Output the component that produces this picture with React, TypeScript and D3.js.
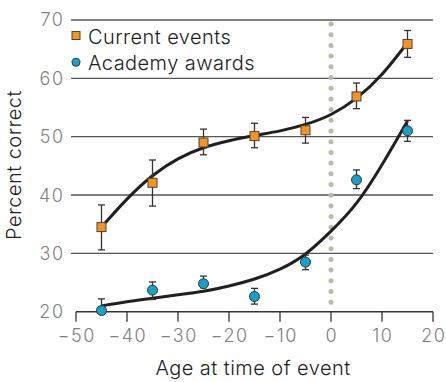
import React from "react";
import * as d3 from "d3";

const ages = [-45, -35, -25, -15, -5, 5, 15];
const currentMean = [34.5, 42.1, 49.0, 50.1, 51.1, 56.9, 65.9];
const currentHi = [38.3, 46.0, 51.3, 52.3, 53.3, 59.2, 68.2];
const currentLo = [30.6, 38.1, 46.9, 48.1, 48.9, 54.8, 63.6];
const academyMean = [20.2, 23.7, 24.8, 22.6, 28.5, 42.6, 51.0];
const academyHi = [22.2, 25.1, 26.1, 24.0, 29.7, 44.3, 52.8];
const academyLo = [20.2, 22.1, 24.1, 21.3, 27.2, 41.1, 49.2];

const fitX = [-45, -40, -35, -30, -25, -20, -15, -10, -5, 0, 5, 10, 15];
const currentFit = [34.5, 39.3, 43.3, 46.2, 48.1, 49.3, 50.2, 51.0, 52.1, 53.8, 56.6, 60.7, 66.1];
const academyFit = [21.0, 21.7, 22.3, 22.9, 23.5, 24.4, 25.6, 27.3, 29.9, 33.8, 38.6, 45.2, 52.7];

const xTicks = [-50, -40, -30, -20, -10, 0, 10, 20];
const yTicks = [20, 30, 40, 50, 60, 70];
const legendLabels = ["Current events", "Academy awards"];

const FONT = "Inter, 'Open Sans', sans-serif";
const ORANGE = "#f7941d";
const TEAL = "#14a3c7";

export default function App() {
  const x = d3.scaleLinear().domain([-50, 20]).range([76, 433]);
  const y = d3.scaleLinear().domain([20, 70]).range([311.7, 20]);
  const line = d3
    .line<[number, number]>()
    .x((d) => x(d[0]))
    .y((d) => y(d[1]))
    .curve(d3.curveNatural);
  const curPath = line(fitX.map((v, i) => [v, currentFit[i]]));
  const acaPath = line(fitX.map((v, i) => [v, academyFit[i]]));
  const fmt = (v: number) => (v < 0 ? "\u2212" + Math.abs(v) : String(v));

  const errBar = (xv: number, lo: number, hi: number, key: string) => (
    <g key={key} stroke="#333" strokeWidth={1.3}>
      <line x1={x(xv)} x2={x(xv)} y1={y(lo)} y2={y(hi)} />
      <line x1={x(xv) - 3.5} x2={x(xv) + 3.5} y1={y(lo)} y2={y(lo)} />
      <line x1={x(xv) - 3.5} x2={x(xv) + 3.5} y1={y(hi)} y2={y(hi)} />
    </g>
  );

  const tickStyle = { fontFamily: FONT, fontSize: 18, fontWeight: 300, fill: "#808080", letterSpacing: 1.5 };
  const titleStyle = { fontFamily: FONT, fontSize: 20, fontWeight: 300, fill: "#222", letterSpacing: 0.45 };

  return (
    <svg width={446} height={382} style={{ position: "absolute", left: 0, top: 0 }}>
      <rect width={446} height={382} fill="#fff" />
      {yTicks.filter((t) => t > 20).map((t) => (
        <line key={t} x1={71} x2={433} y1={y(t)} y2={y(t)} stroke="#555" strokeWidth={1.3} />
      ))}
      {yTicks.map((t) => (
        <text key={t} x={64.5} y={y(t)} dy="0.36em" textAnchor="end" style={tickStyle}>
          {t}
        </text>
      ))}
      <line x1={x(-50)} x2={x(20)} y1={y(20)} y2={y(20)} stroke="#333" strokeWidth={1.5} />
      {xTicks.map((t) => (
        <g key={t}>
          <line x1={x(t)} x2={x(t)} y1={y(20)} y2={y(20) + 10} stroke="#333" strokeWidth={1.3} />
          <text x={x(t) + 0.75} y={342} textAnchor="middle" style={tickStyle}>
            {fmt(t)}
          </text>
        </g>
      ))}
      <line x1={x(0)} x2={x(0)} y1={24} y2={308} stroke="#bdb8a8" strokeWidth={5} strokeLinecap="round" strokeDasharray="0 10.7" />
      <path d={curPath || ""} fill="none" stroke="#231f20" strokeWidth={3} />
      <path d={acaPath || ""} fill="none" stroke="#231f20" strokeWidth={3} />
      {ages.map((a, i) => errBar(a, currentLo[i], currentHi[i], "c" + i))}
      {ages.map((a, i) => errBar(a, academyLo[i], academyHi[i], "a" + i))}
      {ages.map((a, i) => (
        <rect key={"cs" + i} x={x(a) - 4.5} y={y(currentMean[i]) - 4.5} width={9} height={9} fill={ORANGE} stroke="#444" strokeWidth={1} />
      ))}
      {ages.map((a, i) => (
        <circle key={"ac" + i} cx={x(a)} cy={y(academyMean[i])} r={5} fill={TEAL} stroke="#333" strokeWidth={1} />
      ))}
      <rect x={72} y={31.5} width={8} height={8} fill={ORANGE} stroke="#444" strokeWidth={1} />
      <circle cx={76} cy={62.3} r={4} fill={TEAL} stroke="#333" strokeWidth={1} />
      <text x={88} y={43.5} style={titleStyle}>{legendLabels[0]}</text>
      <text x={88} y={70} style={titleStyle}>{legendLabels[1]}</text>
      <text x={253} y={375} textAnchor="middle" style={titleStyle}>Age at time of event</text>
      <text transform="translate(21,165) rotate(-90)" textAnchor="middle" style={titleStyle}>Percent correct</text>
    </svg>
  );
}
